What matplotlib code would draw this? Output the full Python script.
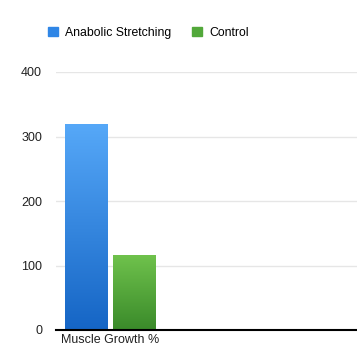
import numpy as np
import matplotlib.pyplot as plt
from matplotlib.patches import Rectangle

plt.rcParams['font.family'] = ['Liberation Sans', 'DejaVu Sans']

categories = ['Muscle Growth %']
series_names = ['Anabolic Stretching', 'Control']
series_values = [[318], [115]]
yticks = [0, 100, 200, 300, 400]

top_colors = ['#56a8f8', '#6fc24c']
bottom_colors = ['#1565c5', '#3a8a2a']
legend_colors = ['#2f86e6', '#52a83a']

fig = plt.figure(figsize=(3.57, 3.52), dpi=100)
ax = fig.add_axes([56 / 357, 22 / 352, 301 / 357, 258 / 352])

slot = 109.0
width = 43 / slot
offsets = [-24 / slot, 24 / slot]


def gradient_bar(x, h, c_top, c_bot):
    t = np.array(plt.matplotlib.colors.to_rgb(c_top))
    b = np.array(plt.matplotlib.colors.to_rgb(c_bot))
    f = np.linspace(0, 1, 256)[:, None]
    img = (t * (1 - f) + b * f)[:, None, :]
    ax.imshow(img, extent=[x - width / 2, x + width / 2, 0, h],
              aspect='auto', origin='upper', zorder=3)


for i, name in enumerate(series_names):
    for j, v in enumerate(series_values[i]):
        gradient_bar(j + offsets[i], v, top_colors[i], bottom_colors[i])

ax.set_xlim(-0.5, -0.5 + 301 / slot)
ax.set_ylim(0, 400)

ax.set_yticks(yticks)
ax.set_yticklabels([str(t) for t in yticks], fontsize=9, color='#222222')
ax.set_xticks(range(len(categories)))
ax.set_xticklabels(categories, fontsize=9, color='#222222')
ax.tick_params(axis='both', length=0)
ax.tick_params(axis='y', pad=10)
ax.tick_params(axis='x', pad=3)

ax.grid(axis='y', color='#e6e6e6', linewidth=1)
ax.set_axisbelow(True)
for s in ['left', 'right', 'top']:
    ax.spines[s].set_visible(False)
ax.spines['bottom'].set_color('black')
ax.spines['bottom'].set_linewidth(1.5)
ax.spines['bottom'].set_zorder(5)

handles = [Rectangle((0, 0), 1, 1, color=c) for c in legend_colors]
fig.legend(handles, series_names, loc='center left',
           bbox_to_anchor=(37 / 357, 1 - 33 / 352), ncol=2, frameon=False,
           fontsize=8.8, handlelength=0.8, handleheight=0.8,
           handletextpad=0.6, columnspacing=1.7)

fig.savefig('out.png', dpi=100)
